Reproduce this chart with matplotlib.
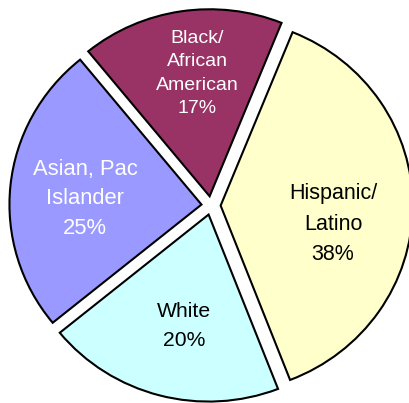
import matplotlib

matplotlib.use("Agg")
import matplotlib.pyplot as plt

plt.rcParams["font.family"] = ["Liberation Sans", "DejaVu Sans"]

# share of each group, going round counter-clockwise from the top
groups = ["Black/\nAfrican\nAmerican", "Asian, Pac\nIslander", "White", "Hispanic/\nLatino"]
shares = [17, 25, 20, 38]
colors = ["#993366", "#9999FF", "#CCFFFF", "#FFFFCC"]
text_colors = ["white", "white", "black", "black"]

# label placement (axes data units) and font sizes
label_xy = [(-0.073, 0.706), (-0.656, 0.035), (-0.141, -0.645), (0.635, -0.1)]
label_size = [14, 15.8, 15.2, 15.5]
label_spacing = [1.5, 1.53, 1.7, 1.6]

fig = plt.figure(figsize=(4.1, 4.03), dpi=100)
ax = fig.add_axes([0, 0, 1, 1])

wedges, _ = ax.pie(
    shares,
    colors=colors,
    startangle=68,
    counterclock=True,
    explode=[0.05] * len(shares),
    wedgeprops={"edgecolor": "black", "linewidth": 1.5},
)

for i, name in enumerate(groups):
    x, y = label_xy[i]
    ax.text(
        x,
        y,
        f"{name}\n{shares[i]}%",
        ha="center",
        va="center",
        color=text_colors[i],
        fontsize=label_size[i],
        linespacing=label_spacing[i],
    )

# the pie is drawn a little wider than tall
ax.set_aspect("auto")
ax.set_xlim(-1.099, 1.036)
ax.set_ylim(-1.056, 1.099)
ax.axis("off")

fig.savefig("out.png", dpi=100)
